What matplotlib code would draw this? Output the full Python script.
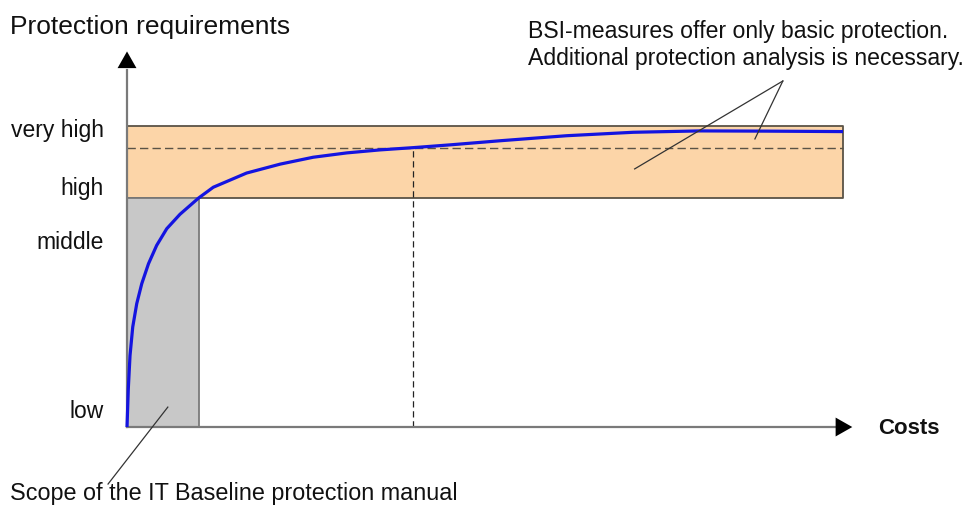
import numpy as np
import matplotlib
matplotlib.use("Agg")
import matplotlib.pyplot as plt

plt.rcParams["font.family"] = ["Liberation Sans", "DejaVu Sans"]

# Protection level reached for a given amount of cost
cost = [0, 0.18, 0.42, 0.8, 1.36, 2.06, 3.0, 4.14, 5.55, 7.4, 10, 12.05,
        16.7, 21.4, 26.0, 30.7, 35.3, 40, 45.1, 52.1, 61.4, 70.7, 80, 89.3,
        100]
protection = [0, 16.7, 31.2, 43.7, 53.9, 62.6, 71.3, 79.3, 86.6, 92.9, 100,
              104.7, 110.9, 114.8, 117.8, 119.7, 121.0, 122, 123.2, 125.0,
              127.2, 128.7, 129.3, 129.2, 129.0]

level_names = ["very high", "high", "middle", "low"]
level_pos = [129.7, 104.8, 80.8, 7.4]

high_level = 100         # lower edge of the "high" band
very_high_level = 131.5  # upper edge of the band
basic_level = 122        # level reached by baseline measures
baseline_cost = 10       # scope of the manual
basic_cost = 40
cost_max = 100

fig = plt.figure(figsize=(9.72, 5.10), dpi=100)
ax = fig.add_axes([0, 0, 1, 1])
ax.set_xlim(-17.74, 118.02)
ax.set_ylim(-35.8, 186.9)
ax.axis("off")

# high / very high band
ax.fill_between([0, cost_max], high_level, very_high_level, color="#fcd5a8",
                edgecolor="#5a5346", linewidth=1.3, zorder=1)
ax.hlines(basic_level, 0, cost_max, colors="#5a5346", linestyles=(0, (6, 3)),
          linewidth=1.0, zorder=2)

# scope of the baseline manual
ax.fill_between([0, baseline_cost], 0, high_level, color="#c8c8c8",
                edgecolor="#7a7a7a", linewidth=1.3, zorder=1)

ax.vlines(basic_cost, 0, basic_level, colors="#222222", linestyles=(0, (5, 3)),
          linewidth=0.9, zorder=2)

ax.plot(cost, protection, color="#1414e0", linewidth=2.3, zorder=4,
        solid_capstyle="butt", solid_joinstyle="round")

# axes with arrow heads
axis_col = "#7a7a7a"
ax.plot([0, 0], [0, 156], color=axis_col, linewidth=1.6, zorder=3)
ax.plot([0, 99], [0, 0], color=axis_col, linewidth=1.6, zorder=3)
ax.annotate("", xy=(0, 164), xytext=(0, 156),
            arrowprops=dict(arrowstyle="-|>,head_length=0.6,head_width=0.34",
                            mutation_scale=20, color="black", lw=0,
                            shrinkA=0, shrinkB=0))
ax.annotate("", xy=(101.3, 0), xytext=(98.9, 0),
            arrowprops=dict(arrowstyle="-|>,head_length=0.6,head_width=0.34",
                            mutation_scale=20, color="black", lw=0,
                            shrinkA=0, shrinkB=0))

ax.text(-16.3, 172.0, "Protection requirements", fontsize=19, va="baseline",
        ha="left", color="#111111")
for name, y in zip(level_names, level_pos):
    ax.text(-3.2, y, name, fontsize=16.5, ha="right", va="center",
            color="#111111")
ax.text(104.9, 0, "Costs", fontsize=16, fontweight="bold", ha="left",
        va="center", color="#111111")

ax.text(56, 158.5, "BSI-measures offer only basic protection.\n"
        "Additional protection analysis is necessary.", fontsize=16.6,
        ha="left", va="baseline", linespacing=1.25, color="#111111")
ax.text(-16.3, -31.4, "Scope of the IT Baseline protection manual",
        fontsize=16.8, ha="left", va="baseline", color="#111111")

# leader lines
lead_col = "#333333"
ax.plot([91.6, 70.9], [151.1, 112.7], color=lead_col, linewidth=0.9, zorder=5)
ax.plot([91.6, 87.7], [151.1, 125.8], color=lead_col, linewidth=0.9, zorder=5)
ax.plot([-2.65, 5.7], [-24.9, 8.7], color=lead_col, linewidth=0.9, zorder=5)

fig.savefig("out.png", dpi=100)
